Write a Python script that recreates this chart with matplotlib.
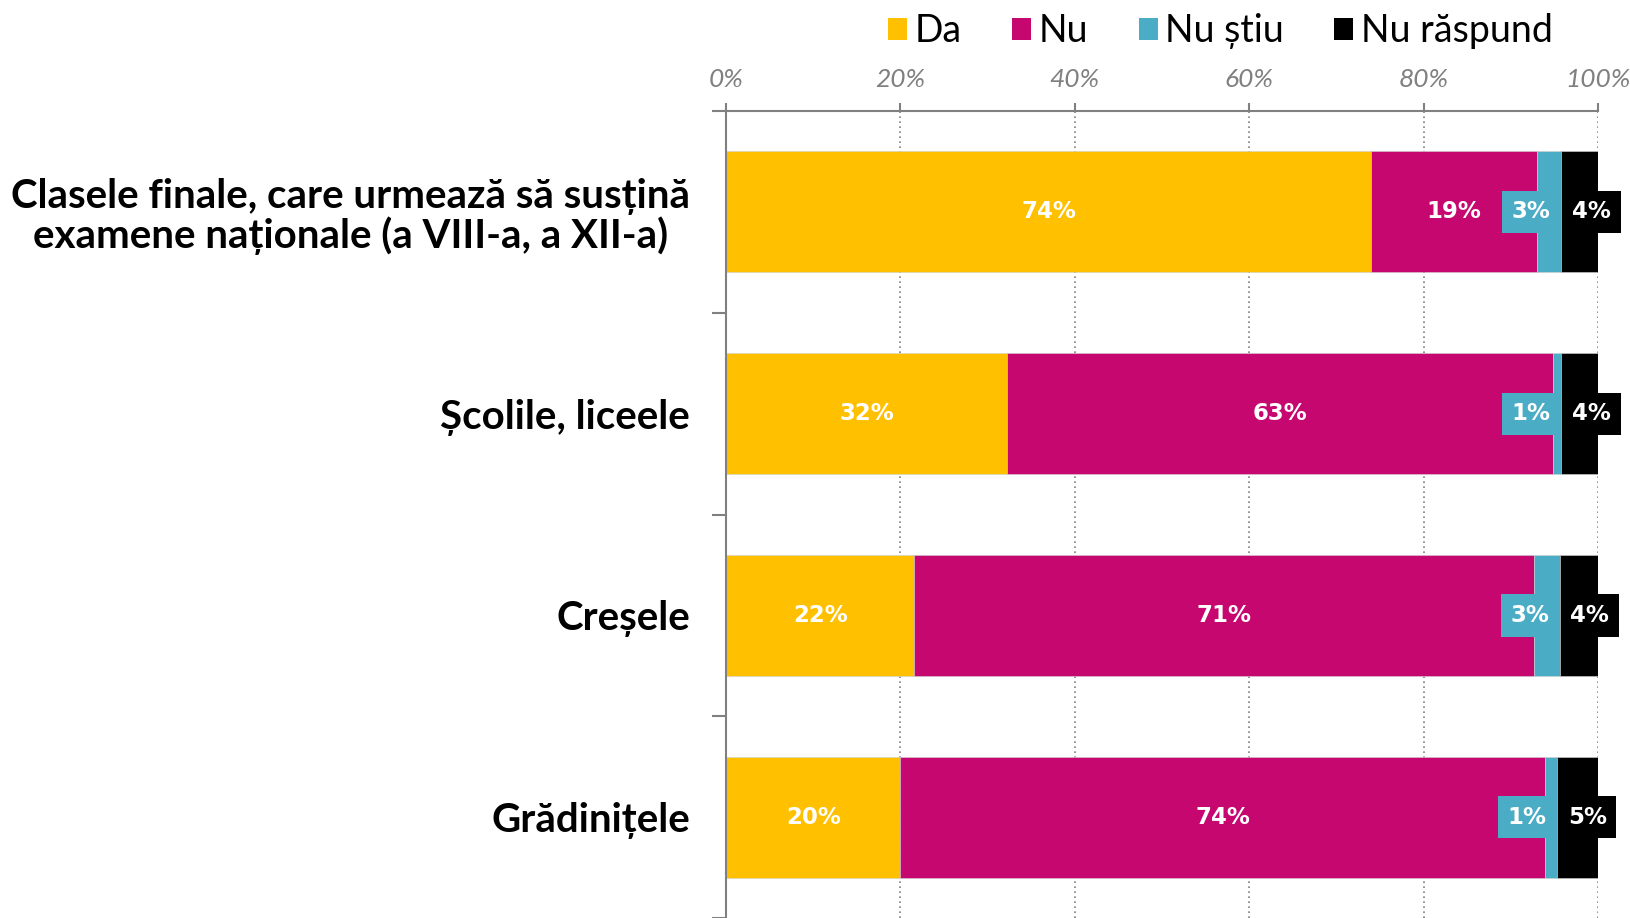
import matplotlib.pyplot as plt
from matplotlib.patches import Patch
import numpy as np

categories = [
    "Clasele finale, care urmează să susțină\nexamene naționale (a VIII-a, a XII-a)",
    "Școlile, liceele",
    "Creșele",
    "Grădinițele",
]
series = ["Da", "Nu", "Nu știu", "Nu răspund"]
da = [74.0, 32.2, 21.6, 20.0]
nu = [19.0, 62.6, 71.0, 73.9]
nu_stiu = [2.8, 1.0, 3.0, 1.4]
nu_raspund = [4.2, 4.2, 4.4, 4.7]
colors = ["#FFC000", "#C5076F", "#4BACC6", "#000000"]

fig = plt.figure(figsize=(16.3, 9.18), dpi=100)
ax = fig.add_axes([0.4454, 0.0, 0.9804 - 0.4454, 1 - 111 / 918])

y = np.arange(len(categories))
values = [da, nu, nu_stiu, nu_raspund]
left = np.zeros(len(categories))
for vals, col in zip(values, colors):
    ax.barh(y, vals, left=left, height=0.6, color=col, zorder=2,
            edgecolor="#d0d0d0", linewidth=0.4)
    left += np.array(vals)

fs = 16.5
pad = 0.42
pad_px = pad * fs * 100 / 72
label_font = dict(color="white", fontweight="bold", fontsize=fs)
for i in range(len(categories)):
    s = 0
    # Da / Nu in the middle of their segment
    for vals in (da, nu):
        ax.text(s + vals[i] / 2, y[i], f"{round(vals[i])}%", ha="center",
                va="center", zorder=4, **label_font)
        s += vals[i]
    # Nu stiu: box ends where the segment ends
    s += nu_stiu[i]
    ax.annotate(f"{round(nu_stiu[i])}%", xy=(s, y[i]), xytext=(-pad_px - 1, 0),
                textcoords="offset pixels", ha="right", va="center", zorder=5,
                bbox=dict(boxstyle=f"square,pad={pad}", fc=colors[2], ec="none"),
                **label_font)
    # Nu raspund: box starts where the segment starts
    ax.annotate(f"{round(nu_raspund[i])}%", xy=(s, y[i]), xytext=(pad_px + 1, 0),
                textcoords="offset pixels", ha="left", va="center", zorder=5,
                bbox=dict(boxstyle=f"square,pad={pad}", fc=colors[3], ec="none"),
                **label_font)

ax.set_xlim(0, 100)
ax.set_ylim(3.5, -0.5)

ax.xaxis.tick_top()
ax.set_xticks(range(0, 101, 20))
ax.set_xticklabels([f"{v}%" for v in range(0, 101, 20)], fontsize=19,
                   style="italic", color="#808080", family="Lato")
ax.tick_params(axis="x", direction="out", length=6, width=1.5, color="#808080", pad=8.5)
ax.grid(axis="x", linestyle=(0, (1, 2)), color="#808080", linewidth=1.2, zorder=0)

ax.set_yticks([-0.5, 0.5, 1.5, 2.5, 3.5])
ax.set_yticklabels([])
ax.set_yticks(y, minor=True)
ax.set_yticklabels(categories, minor=True, fontsize=29, fontweight="bold",
                   multialignment="center", family="Lato", linespacing=1.05)
ax.tick_params(axis="y", which="major", direction="out", length=10, width=1.5, color="#808080")
ax.tick_params(axis="y", which="minor", direction="in", length=8, width=1.5, color="#808080", pad=26)

for side in ("right", "bottom"):
    ax.spines[side].set_visible(False)
for side in ("top", "left"):
    ax.spines[side].set_color("#808080")
    ax.spines[side].set_linewidth(1.5)

handles = [Patch(facecolor=c, edgecolor="none") for c in colors]
fig.legend(handles, series, loc="center", bbox_to_anchor=(0.7488, 0.966), ncol=4,
           frameon=False, handlelength=0.5, handleheight=0.5,
           handletextpad=0.2, columnspacing=1.35,
           prop={"family": "Lato", "size": 27})

fig.savefig("out.png", dpi=100)
